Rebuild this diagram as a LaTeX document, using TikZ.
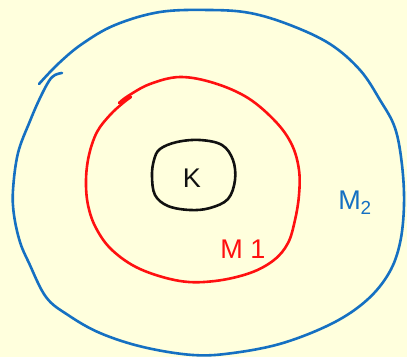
\documentclass[tikz,border=0pt]{standalone}
\usepackage{fontspec}
\setmainfont{Liberation Sans}
\definecolor{bg}{HTML}{FFFFDD}
\definecolor{penblue}{HTML}{1570C2}
\definecolor{penred}{HTML}{FF1010}
\definecolor{penblack}{HTML}{111111}
\begin{document}
\begin{tikzpicture}[x=1pt,y=-1pt,
  stroke/.style={line width=2.6pt,line cap=round,line join=round},
  lbl/.style={inner sep=0pt,font=\fontsize{27}{30}\selectfont}]
\fill[bg] (0,0) rectangle (407,357);
\useasboundingbox (0,0) rectangle (407,357);
% outer blue
\draw[stroke,penblue] plot[smooth,tension=0.6] coordinates {(62,73) (55,75) (49,81) (40,98) (30,121) (18,153) (13,190) (14,215) (20,242) (29,263) (46,297) (68,315) (100,333) (143,347) (193,355) (233,353) (283,343) (333,323) (367,300) (389,273) (400,243) (404,205) (402,165) (395,128) (380,100) (360,70) (330,44) (290,25) (250,13) (210,10) (160,12) (115,25) (82,44) (58,64) (39,84)};
% red middle
\draw[stroke,penred] plot[smooth,tension=0.6] coordinates {(131,97) (123,103) (110,115) (97,132) (89,155) (86,180) (88,205) (96,228) (112,250) (140,269) (180,281) (215,281) (250,273) (274,260) (288,243) (295,220) (299,195) (299,170) (292,145) (276,122) (248,98) (214,83) (180,77) (150,84) (128,96) (119,103)};
% black inner
\draw[stroke,penblack] plot[smooth cycle,tension=0.6] coordinates {(160,149) (177,142) (200,140) (222,145) (233,160) (235,180) (228,199) (210,208) (190,210) (168,206) (155,195) (152,176) (154,160)};
\node[lbl,penblack] (k) at (192,178) {K};
\node[lbl,penred] (m1) at (243,249) {M 1};
\node[lbl,penblue] (m2) at (355,203) {M\textsubscript{2}};
\end{tikzpicture}
\end{document}
